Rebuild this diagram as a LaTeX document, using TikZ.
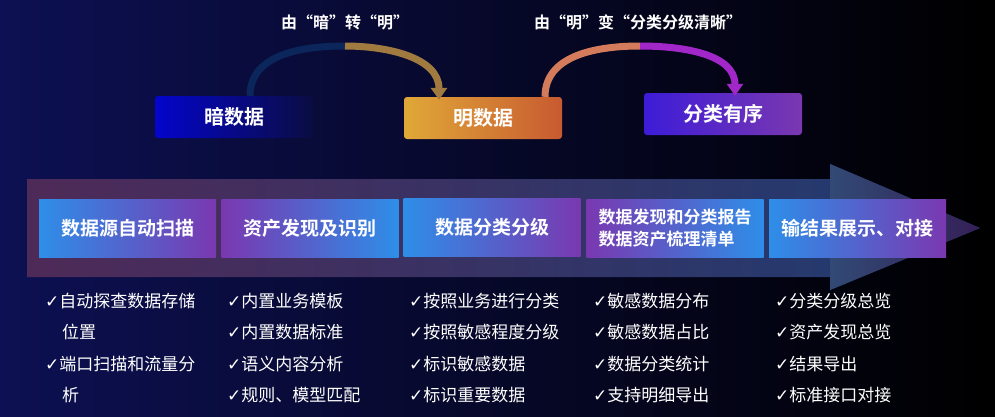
\documentclass[tikz,border=0pt]{standalone}
\usepackage{fontspec}
\setmainfont{Noto Sans CJK SC}[BoldFont={Noto Sans CJK SC Bold}]
\newfontfamily\symfont{DejaVu Sans}
\usetikzlibrary{positioning, arrows.meta}
\definecolor{navy}{HTML}{0D1052}
\definecolor{gold}{HTML}{E0A838}
\definecolor{rust}{HTML}{C85A30}
\definecolor{violet}{HTML}{7A38B0}
\definecolor{sky}{HTML}{2E8EE8}
\definecolor{plum}{HTML}{4E2A58}
\definecolor{steel}{HTML}{1E3C72}
\newcommand{\ok}{{\symfont\char"2713}}
\begin{document}
\begin{tikzpicture}[x=1pt, y=-1pt, font=\bfseries, text=white]
\tikzset{
  topbox/.style={minimum width=158pt, minimum height=42pt, rounded corners=3pt, font=\bfseries\fontsize{20}{22}\selectfont},
  stagebox/.style={minimum width=177pt, minimum height=58pt, font=\bfseries\fontsize{19}{22}\selectfont, align=left},
  item/.style={anchor=west, font=\fontsize{17}{19}\selectfont, inner sep=0pt},
  hop/.style={line width=7pt, -{Triangle[width=16pt, length=12pt]}}
}
% background
\shade[left color=navy, right color=black] (0,0) rectangle (995,416);
\useasboundingbox (0,0) rectangle (995,416);

% top row
\node[topbox, left color=blue!70!navy, right color=navy!80!black] (dark)  at (234,117) {暗数据};
\node[topbox, left color=gold, right color=rust]                  (light) at (483,118) {明数据};
\node[topbox, left color=blue!50!violet, right color=violet]      (order) at (723,114) {分类有序};
\node[font=\bfseries\fontsize{16}{18}\selectfont] (t1) at (345,22) {由“暗”转“明”};
\node[font=\bfseries\fontsize{16}{18}\selectfont] (t2) at (638,22) {由“明”变“分类分级清晰”};
\coordinate (top1) at (345,46);
\coordinate (top2) at (640,46);
\draw[line width=7pt, navy!80!teal] ([xshift=16pt]dark.north) to[out=90, in=180] (top1);
\draw[hop, gold!70!navy] (top1) to[out=0, in=90] ([xshift=-44pt,yshift=-3pt]light.north);
\draw[line width=7pt, rust!80!white] ([xshift=62pt]light.north) to[out=90, in=180] (top2);
\draw[hop, violet!70!magenta] (top2) to[out=0, in=90] ([xshift=12pt,yshift=-3pt]order.north);

% big arrow
\shade[left color=plum, right color=steel]
  (27,179) -- (830,179) -- (830,164) -- (980,228) -- (830,290) -- (830,277) -- (27,277) -- cycle;
\shade[left color=steel!80!gray, right color=plum!60!navy] (830,164) -- (980,228) -- (830,290) -- cycle;

% stages
\node[stagebox, left color=sky, right color=violet]  (s1) at (127.5,228) {数据源自动扫描};
\node[stagebox, left color=violet, right color=sky]  (s2) at (310,228) {资产发现及识别};
\node[stagebox, left color=sky, right color=violet]  (s3) at (492,227) {数据分类分级};
\node[stagebox, left color=violet, right color=sky, font=\bfseries\fontsize{17}{22}\selectfont] (s4) at (675,228) {数据发现和分类报告\\数据资产梳理清单};
\node[stagebox, left color=sky, right color=violet]  (s5) at (857.5,228) {输结果展示、对接};

% lists
\node[item] (a1) at (45,301) {\ok 自动探查数据存储};
\node[item] (a2) at (62,332) {位置};
\node[item] (a3) at (45,364) {\ok 端口扫描和流量分};
\node[item] (a4) at (62,395) {析};
\node[item] (b1) at (227,301) {\ok 内置业务模板};
\node[item] (b2) at (227,332) {\ok 内置数据标准};
\node[item] (b3) at (227,364) {\ok 语义内容分析};
\node[item] (b4) at (227,395) {\ok 规则、模型匹配};
\node[item] (c1) at (409,301) {\ok 按照业务进行分类};
\node[item] (c2) at (409,332) {\ok 按照敏感程度分级};
\node[item] (c3) at (409,364) {\ok 标识敏感数据};
\node[item] (c4) at (409,395) {\ok 标识重要数据};
\node[item] (d1) at (593,301) {\ok 敏感数据分布};
\node[item] (d2) at (593,332) {\ok 敏感数据占比};
\node[item] (d3) at (593,364) {\ok 数据分类统计};
\node[item] (d4) at (593,395) {\ok 支持明细导出};
\node[item] (e1) at (775,301) {\ok 分类分级总览};
\node[item] (e2) at (775,332) {\ok 资产发现总览};
\node[item] (e3) at (775,364) {\ok 结果导出};
\node[item] (e4) at (775,395) {\ok 标准接口对接};
\end{tikzpicture}
\end{document}
